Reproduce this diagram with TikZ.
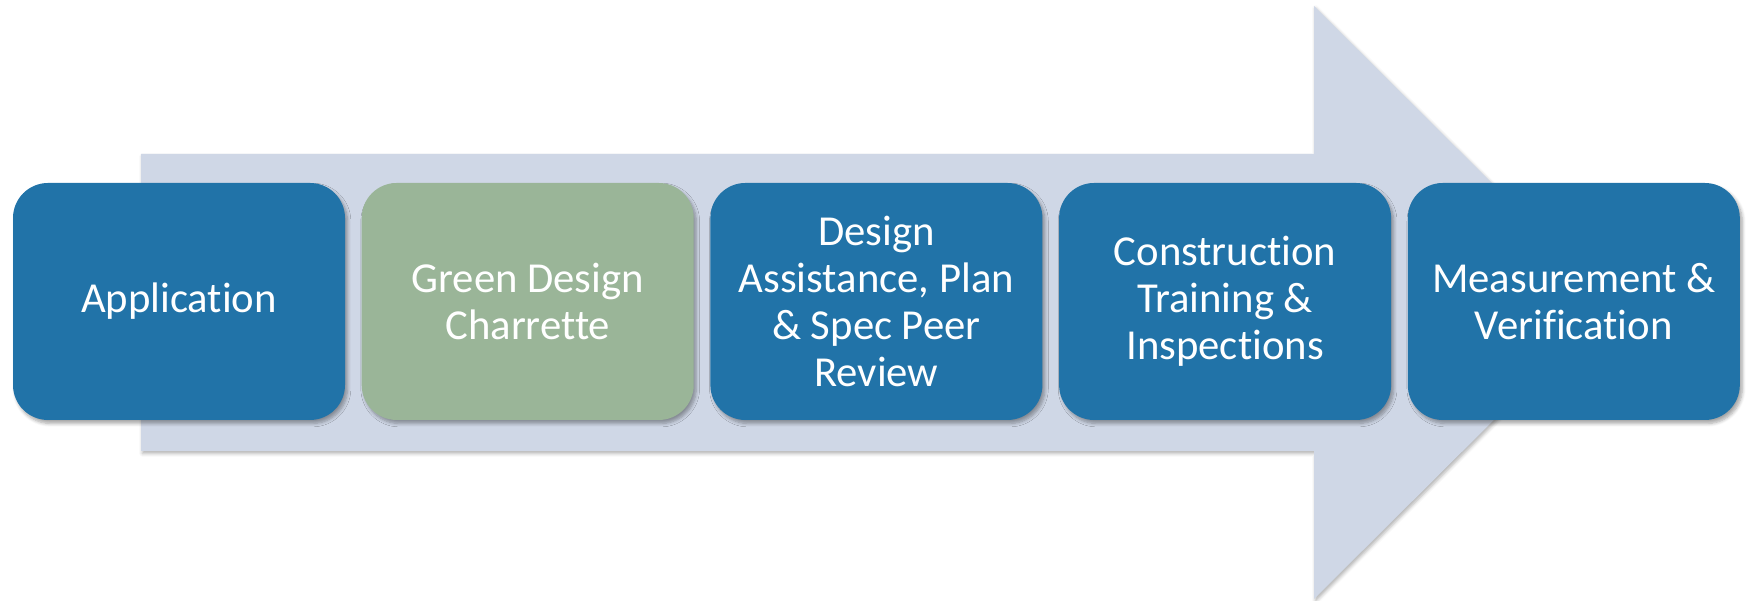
\documentclass[tikz,border=0pt]{standalone}
\usepackage{fontspec}
\setmainfont[Ligatures=NoCommon]{Carlito}
\usetikzlibrary{positioning,shadows.blur}

\definecolor{stepblue}{RGB}{33,115,168}
\definecolor{stepgreen}{RGB}{154,181,152}
\definecolor{arrowgray}{RGB}{207,215,230}

\begin{document}
\begin{tikzpicture}[node distance=0.32cm,
    phase/.style={rectangle, rounded corners=0.7cm, fill=stepblue, text=white,
      minimum width=6.64cm, minimum height=4.74cm, align=center,
      font=\fontsize{24.3}{26.7}\selectfont,
      blur shadow={shadow xshift=0.05cm, shadow yshift=-0.07cm, shadow blur steps=6, shadow opacity=35}},
    current/.style={phase, fill=stepgreen}
    ]
    \useasboundingbox (0,0) rectangle (34.92,12.02);
    % big arrow behind the boxes
    \fill[arrowgray, blur shadow={shadow xshift=0.03cm, shadow yshift=-0.05cm, shadow opacity=30}]
      (2.82,3.0) -- (2.82,8.94) -- (26.28,8.94) -- (26.28,11.9)
      -- (32.24,5.97) -- (26.28,0.04) -- (26.28,3.0) -- cycle;
    \node[phase] (app) at (3.58,5.99) {Application};
    \node[current, right=of app] (charrette) {Green Design\\Charrette};
    \node[phase, right=of charrette] (review) {Design\\Assistance, Plan\\\& Spec Peer\\Review};
    \node[phase, right=of review] (construct) {Construction\\Training \&\\Inspections};
    \node[phase, right=of construct] (mv) {Measurement \&\\Verification};
  \end{tikzpicture}
\end{document}
